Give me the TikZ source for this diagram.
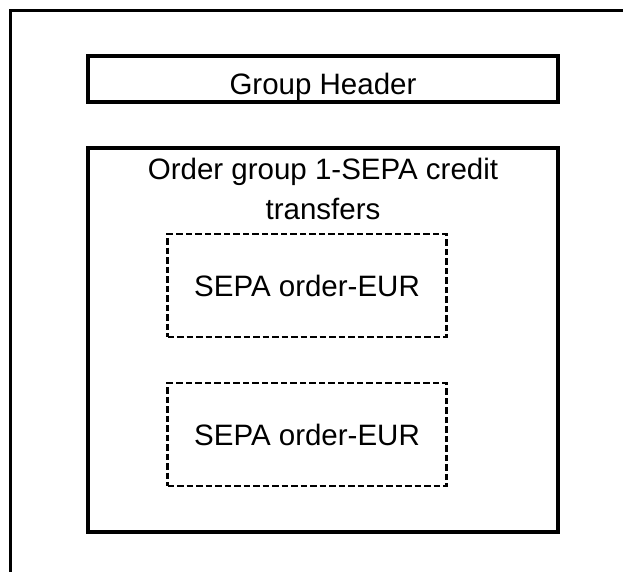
\documentclass[tikz,border=0pt]{standalone}
\usepackage{fontspec}
\setmainfont{Liberation Sans}
\usetikzlibrary{positioning}

\begin{document}
\begin{tikzpicture}[x=1pt, y=-1pt, font=\fontsize{29.5pt}{40pt}\selectfont]

% Styles
\tikzset{
  frame/.style={
    draw,
    line width=3pt
  },
  block/.style={
    draw,
    line width=3.3pt,
    rectangle,
    minimum width=470pt,
    inner sep=0pt,
    outer sep=0pt
  },
  order/.style={
    draw,
    line width=2.4pt,
    dash pattern=on 6.5pt off 3pt,
    rectangle,
    minimum width=279pt,
    minimum height=103pt,
    inner sep=0pt,
    outer sep=0pt,
    align=center
  }
}

% Page and outer frame (cut off right and bottom)
\clip (0,0) rectangle (623,572);
\draw[frame] (10,11) rectangle (700,700);

% Group header
\node[block, minimum height=46pt, text height=32pt, text depth=0pt]
  (header) at (323,79) {Group Header};

% Order group box
\node[block, minimum height=384pt] (group1) at (323,340) {};
\node[anchor=north, align=center, inner sep=0pt] (title) at (323,158)
  {Order group 1-SEPA credit\\transfers};

% SEPA orders
\node[order] (sepa1) at (307,285.5) {SEPA order-EUR};
\node[order, below=46pt of sepa1] (sepa2) {SEPA order-EUR};

\end{tikzpicture}
\end{document}
